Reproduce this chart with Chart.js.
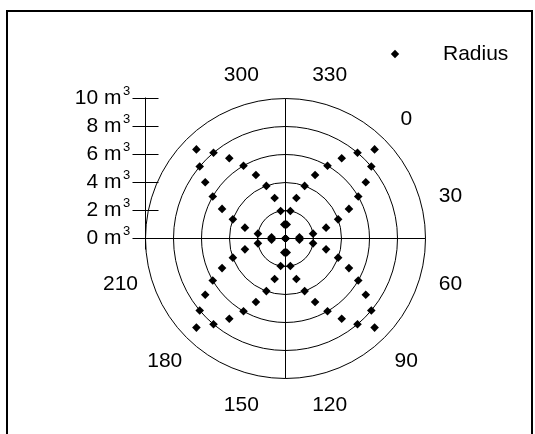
<!DOCTYPE html>
<html>
<head>
<meta charset="utf-8">
<title>Radius</title>
<script src="https://cdn.jsdelivr.net/npm/chart.js@4.4.0/dist/chart.umd.min.js"></script>
<style>
  html, body { margin: 0; padding: 0; background: #fff; }
  #canvas { display: block; }
</style>
</head>
<body>
<canvas id="canvas" width="535" height="434"></canvas>
<script>
// angle of each point (chart degrees, clockwise, 0 at upper right)
var angles = [0, 5, 10, 15, 20, 25, 30, 35, 40, 45, 50, 55, 60, 65, 70, 75, 80, 85,
              90, 95, 100, 105, 110, 115, 120, 125, 130, 135, 140, 145, 150, 155, 160, 165, 170, 175,
              180, 185, 190, 195, 200, 205, 210, 215, 220, 225, 230, 235, 240, 245, 250, 255, 260, 265,
              270, 275, 280, 285, 290, 295, 300, 305, 310, 315, 320, 325, 330, 335, 340, 345, 350, 355];
// radius of each point (m3)
var radius = [9, 8, 7, 6, 5, 4, 3, 2, 1, 0, 1, 2, 3, 4, 5, 6, 7, 8,
              9, 8, 7, 6, 5, 4, 3, 2, 1, 0, 1, 2, 3, 4, 5, 6, 7, 8,
              9, 8, 7, 6, 5, 4, 3, 2, 1, 0, 1, 2, 3, 4, 5, 6, 7, 8,
              9, 8, 7, 6, 5, 4, 3, 2, 1, 0, 1, 2, 3, 4, 5, 6, 7, 8];
var radialTicks = [0, 2, 4, 6, 8, 10];
var angleTicks = [0, 30, 60, 90, 120, 150, 180, 210, 300, 330];
var seriesName = 'Radius';

var FONT = '"Liberation Sans", Arial, Helvetica, sans-serif';

// polar -> cartesian for the scatter scales
function toXY(a, r) {
  var t = (45 - a) * Math.PI / 180;
  return { x: r * Math.cos(t), y: r * Math.sin(t) };
}
var points = angles.map(function (a, i) { return toXY(a, radius[i]); });

var polarGrid = {
  id: 'polarGrid',
  beforeDraw: function (chart) {
    var ctx = chart.ctx;
    ctx.save();
    ctx.fillStyle = '#fff';
    ctx.fillRect(0, 0, chart.width, chart.height);
    // frame
    ctx.strokeStyle = '#000';
    ctx.lineWidth = 2;
    ctx.beginPath();
    ctx.moveTo(7, 434);
    ctx.lineTo(7, 11);
    ctx.lineTo(532, 11);
    ctx.lineTo(532, 434);
    ctx.stroke();
    ctx.restore();
  },
  beforeDatasetsDraw: function (chart) {
    var ctx = chart.ctx;
    var xs = chart.scales.x, ys = chart.scales.y;
    var cx = xs.getPixelForValue(0), cy = ys.getPixelForValue(0);
    var unit = xs.getPixelForValue(1) - cx;
    var rMax = radialTicks[radialTicks.length - 1];
    ctx.save();
    ctx.strokeStyle = '#000';
    ctx.lineWidth = 1;
    // circles
    radialTicks.forEach(function (v) {
      if (v === 0) return;
      ctx.beginPath();
      ctx.arc(cx, cy, v * unit, 0, Math.PI * 2);
      ctx.stroke();
    });
    // cross
    ctx.beginPath();
    ctx.moveTo(xs.getPixelForValue(-rMax), cy);
    ctx.lineTo(xs.getPixelForValue(rMax), cy);
    ctx.moveTo(cx, ys.getPixelForValue(rMax));
    ctx.lineTo(cx, ys.getPixelForValue(-rMax));
    ctx.stroke();

    // radial axis on the left
    var ax = xs.getPixelForValue(-rMax);
    ctx.beginPath();
    ctx.moveTo(ax, ys.getPixelForValue(rMax) - 1);
    ctx.lineTo(ax, cy + 11);
    radialTicks.forEach(function (v) {
      var y = ys.getPixelForValue(v);
      ctx.moveTo(ax - 13, y);
      ctx.lineTo(ax + 13, y);
    });
    ctx.stroke();

    ctx.fillStyle = '#000';
    ctx.textBaseline = 'alphabetic';
    radialTicks.forEach(function (v) {
      var y = ys.getPixelForValue(v);
      ctx.font = '21px ' + FONT;
      ctx.textAlign = 'right';
      ctx.fillText(v + ' m', ax - 24, y + 5.5);
      ctx.font = '13px ' + FONT;
      ctx.textAlign = 'left';
      ctx.fillText('3', ax - 22.5, y - 4);
    });

    // angular labels
    ctx.font = '21px ' + FONT;
    ctx.textAlign = 'center';
    var rl = 12.2 * unit;
    angleTicks.forEach(function (a) {
      var t = (45 - a) * Math.PI / 180;
      var lx = cx + rl * Math.cos(t);
      var ly = cy - rl * Math.sin(t);
      ctx.fillText(String(a), lx, ly + 7.5);
    });
    ctx.restore();
  },
  afterDraw: function (chart) {
    var ctx = chart.ctx;
    var ds = chart.data.datasets[0];
    ctx.save();
    // legend
    ctx.fillStyle = '#000';
    var lx = 395, ly = 54, r = 4.2;
    ctx.beginPath();
    ctx.moveTo(lx - r, ly);
    ctx.lineTo(lx, ly - r);
    ctx.lineTo(lx + r, ly);
    ctx.lineTo(lx, ly + r);
    ctx.closePath();
    ctx.fill();
    ctx.font = '21px ' + FONT;
    ctx.textAlign = 'left';
    ctx.textBaseline = 'alphabetic';
    ctx.fillText(ds.label, 443, 60);
    ctx.restore();
  }
};

var ctx = document.getElementById('canvas').getContext('2d');
window.myChart = new Chart(ctx, {
  type: 'scatter',
  data: {
    datasets: [{
      label: seriesName,
      data: points,
      pointStyle: 'rectRot',
      pointRadius: 4.3,
      pointHoverRadius: 4.3,
      backgroundColor: '#000',
      borderColor: '#000',
      borderWidth: 0
    }]
  },
  options: {
    responsive: false,
    animation: false,
    layout: {
      padding: { left: 145.5, right: 109.5, top: 98.5, bottom: 55.5 }
    },
    scales: {
      x: { type: 'linear', min: -10, max: 10, display: false },
      y: { type: 'linear', min: -10, max: 10, display: false }
    },
    plugins: {
      legend: { display: false },
      tooltip: { enabled: false }
    }
  },
  plugins: [polarGrid]
});
</script>
</body>
</html>
